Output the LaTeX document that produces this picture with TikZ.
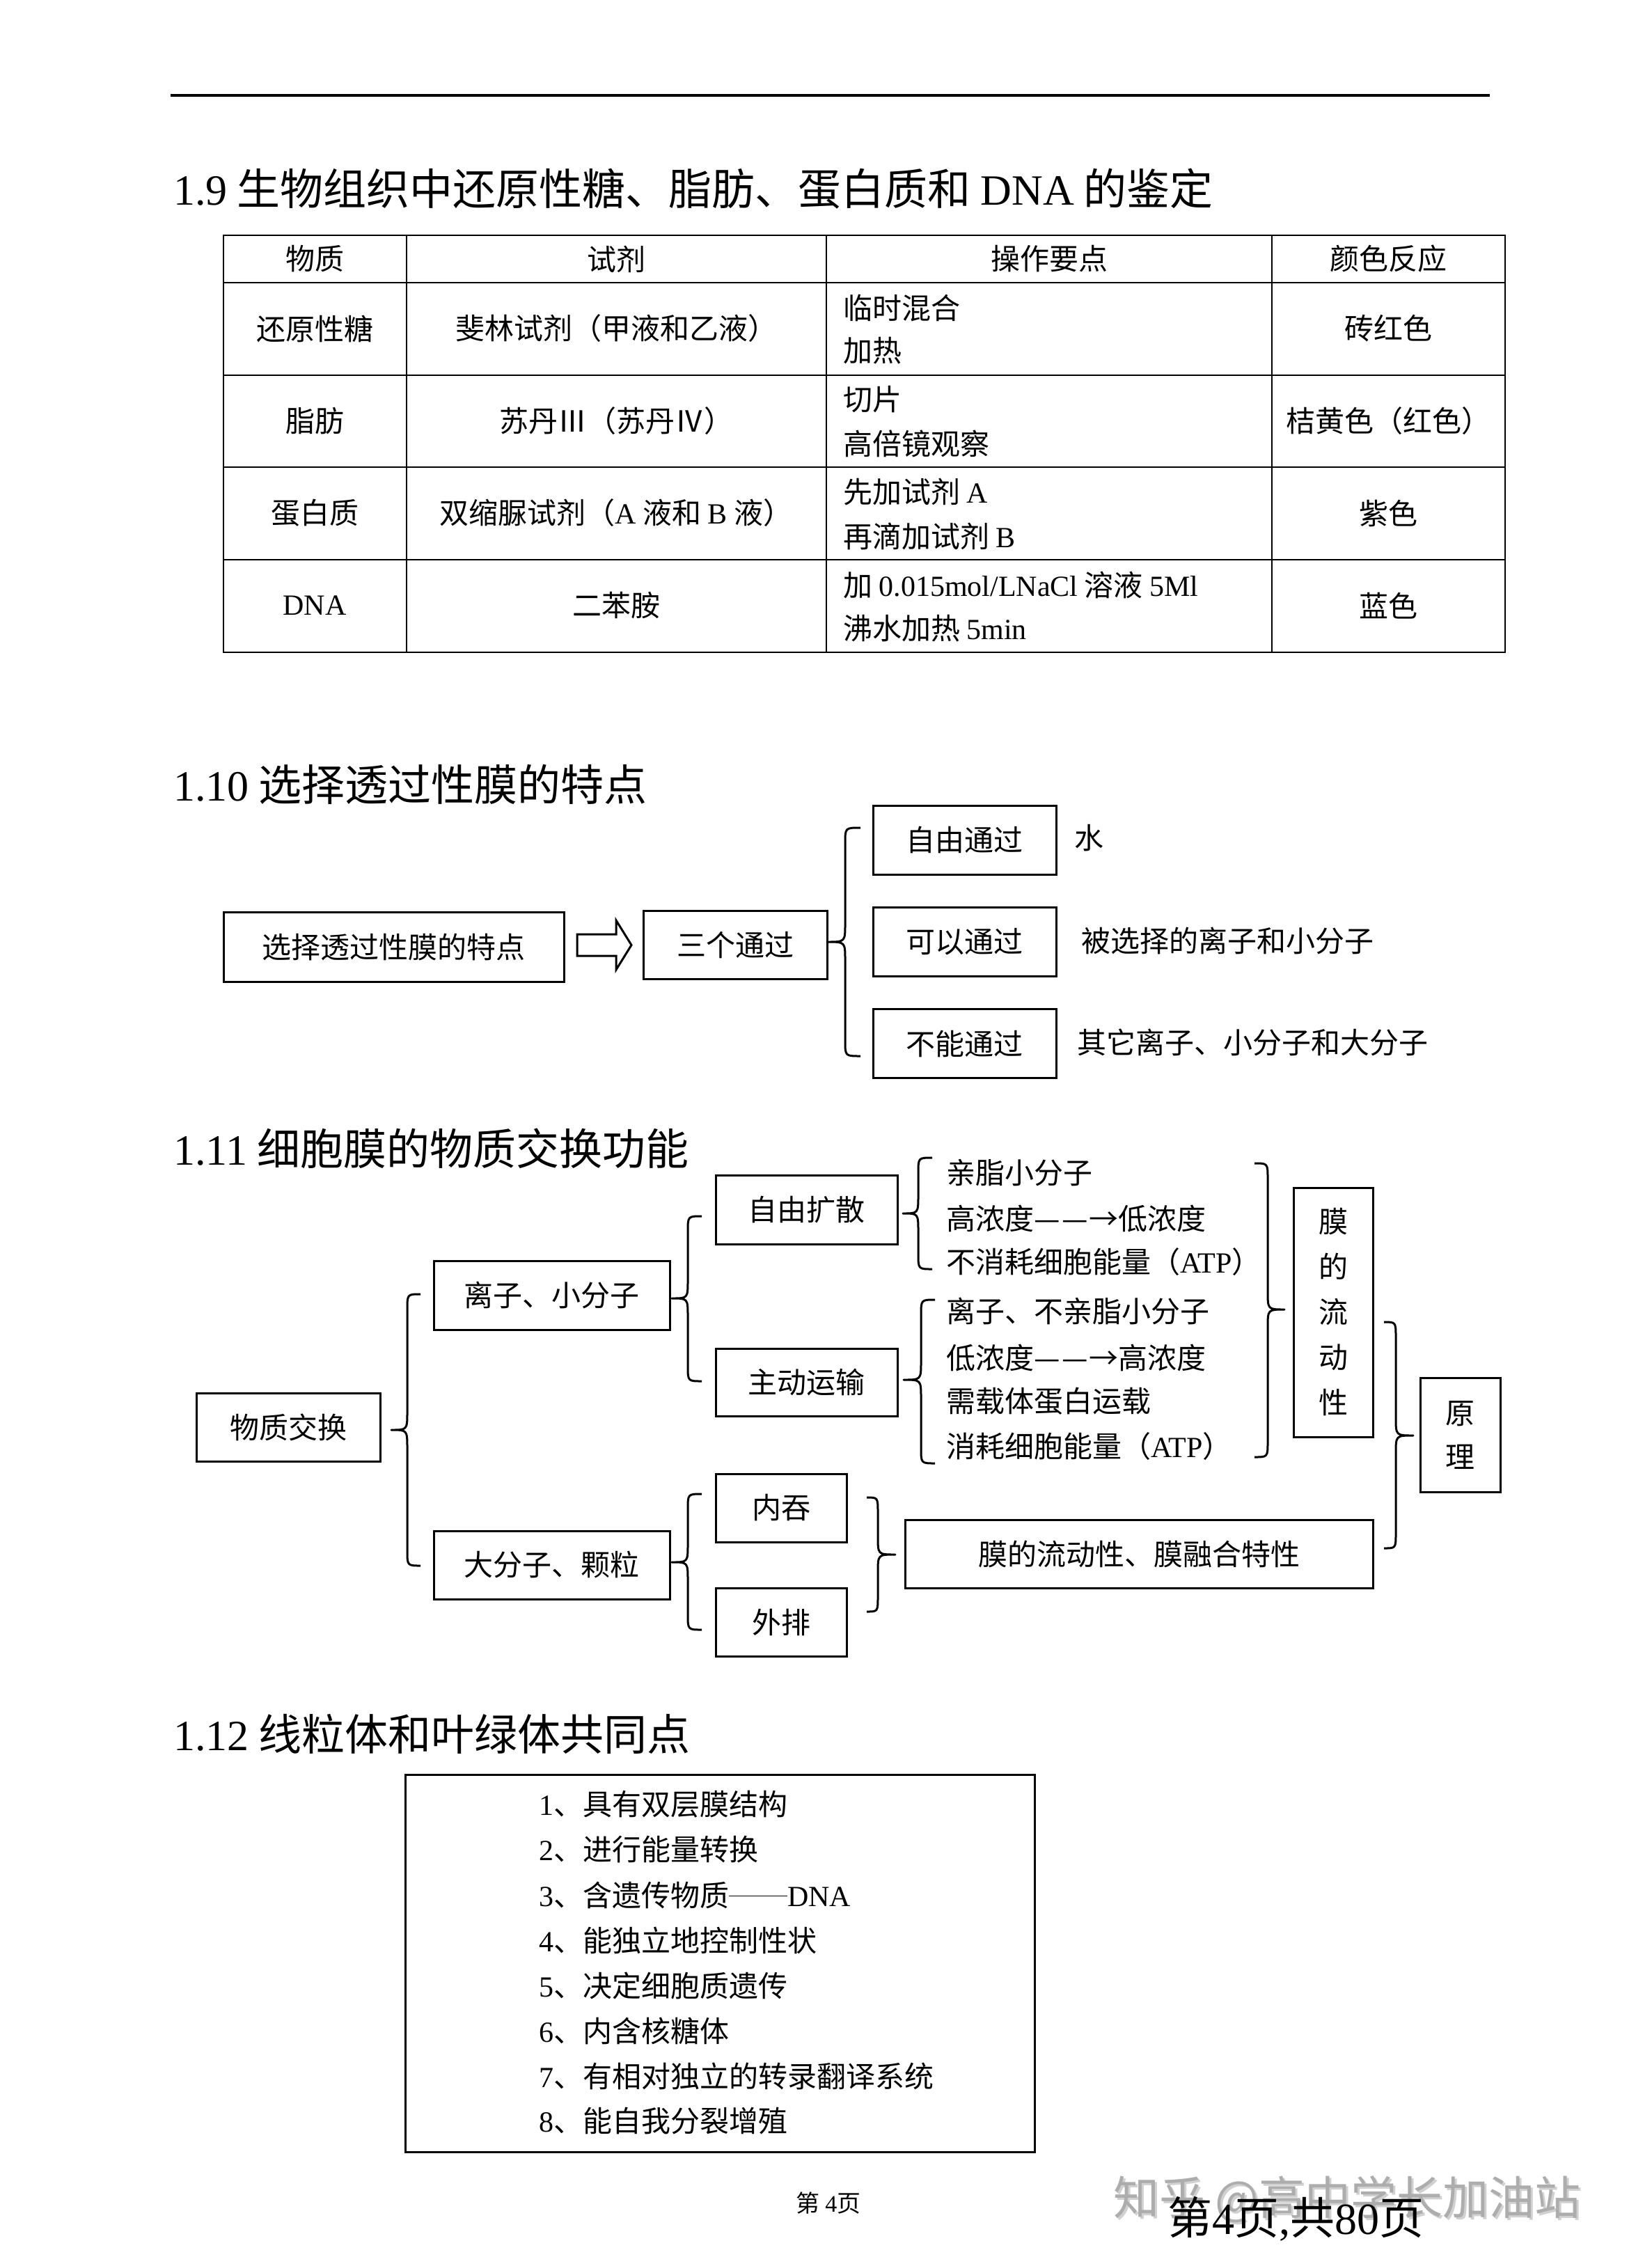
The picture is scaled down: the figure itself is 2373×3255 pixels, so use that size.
\documentclass[tikz,border=0pt]{standalone}
\usepackage{fontspec}
\setmainfont{Liberation Serif}
\newfontfamily\cjk{Noto Sans CJK SC}
\newfontfamily\latin{Liberation Serif}
\newcommand\la[1]{{\latin #1}}
\newcommand\longarr{\makebox[2.9em][s]{—\hfil—\hfil→}}
\newcommand\twodash{\rule[0.33em]{2em}{1.6pt}}
% brace: ends x, vertical x, tip x, y top, y tip, y bottom
\newcommand\brc[6]{%
  \draw[braceline] (#1,#4) .. controls (#2,#4) .. (#2,#4+22) -- (#2,#5-26)
    .. controls (#2,#5) .. (#3,#5) .. controls (#2,#5) .. (#2,#5+26)
    -- (#2,#6-22) .. controls (#2,#6) .. (#1,#6);}
\begin{document}
\begin{tikzpicture}[x=1pt,y=-1pt,
  every node/.style={inner sep=0pt, font=\cjk\fontsize{42}{50}\selectfont},
  box/.style={draw, line width=3pt},
  gridline/.style={line width=2pt},
  lbl/.style={anchor=west},
  title/.style={anchor=west, font=\cjk\fontsize{62}{70}\selectfont},
  braceline/.style={line width=3pt, line join=round},
  vtext/.style={align=center, font=\cjk\fontsize{42}{65}\selectfont}
]
\useasboundingbox (0,0) rectangle (2373,3255);
\fill[white] (0,0) rectangle (2373,3255);

% header rule
\draw[line width=4pt] (245,137) -- (2140,137);

% ===== 1.9 =====
\node[title] (t19) at (249,271) {\la{1.9} 生物组织中还原性糖、脂肪、蛋白质和 \la{DNA} 的鉴定};
\draw[gridline] (321,338) rectangle (2162,937);
\foreach \yy in {406,539,671,804} \draw[gridline] (321,\yy) -- (2162,\yy);
\foreach \xx in {584,1187,1827} \draw[gridline] (\xx,338) -- (\xx,937);

\node (h1) at (452,372) {物质};
\node (h2) at (885,372) {试剂};
\node (h3) at (1507,372) {操作要点};
\node (h4) at (1994,372) {颜色反应};

\node (a1) at (452,472) {还原性糖};
\node (a2) at (885,472) {斐林试剂（甲液和乙液）};
\node[lbl] (a3) at (1211,442) {临时混合};
\node[lbl] (a3b) at (1211,504) {加热};
\node (a4) at (1994,472) {砖红色};

\node (b1) at (452,605) {脂肪};
\node (b2) at (885,605) {苏丹Ⅲ（苏丹Ⅳ）};
\node[lbl] (b3) at (1211,574) {切片};
\node[lbl] (b3b) at (1211,637) {高倍镜观察};
\node (b4) at (1994,605) {桔黄色（红色）};

\node (c1) at (452,737) {蛋白质};
\node (c2) at (885,737) {双缩脲试剂（\la{A} 液和 \la{B} 液）};
\node[lbl] (c3) at (1211,707) {先加试剂 \la{A}};
\node[lbl] (c3b) at (1211,770) {再滴加试剂 \la{B}};
\node (c4) at (1994,737) {紫色};

\node (d1) at (452,870) {\la{DNA}};
\node (d2) at (885,870) {二苯胺};
\node[lbl] (d3) at (1211,840) {加 \la{0.015mol/LNaCl} 溶液 \la{5Ml}};
\node[lbl] (d3b) at (1211,903) {沸水加热 \la{5min}};
\node (d4) at (1994,870) {蓝色};

% ===== 1.10 =====
\node[title] (t110) at (249,1127) {\la{1.10} 选择透过性膜的特点};
\node[box, minimum width=489, minimum height=100] (sA) at (565.5,1360) {选择透过性膜的特点};
\node[box, minimum width=264, minimum height=98] (sB) at (1056,1357) {三个通过};
\node[box, minimum width=263, minimum height=99] (sC1) at (1385.5,1206.5) {自由通过};
\node[box, minimum width=263, minimum height=99] (sC2) at (1385.5,1353) {可以通过};
\node[box, minimum width=263, minimum height=99] (sC3) at (1385.5,1499) {不能通过};
\node[lbl] (sL1) at (1543,1204) {水};
\node[lbl] (sL2) at (1553,1351) {被选择的离子和小分子};
\node[lbl] (sL3) at (1547,1497) {其它离子、小分子和大分子};
\draw[line width=3pt, line join=miter] (829,1342) -- (885,1342) -- (885,1322) -- (907,1357.5)
  -- (885,1393) -- (885,1373) -- (829,1373) -- cycle;
\brc{1236}{1214}{1188}{1189}{1353}{1517}

% ===== 1.11 =====
\node[title] (t111) at (249,1650) {\la{1.11} 细胞膜的物质交换功能};
\node[box, minimum width=264, minimum height=98] (m0) at (414,2050) {物质交换};
\node[box, minimum width=339, minimum height=99] (m1) at (792.5,1860.5) {离子、小分子};
\node[box, minimum width=339, minimum height=98] (m2) at (792.5,2248) {大分子、颗粒};
\node[box, minimum width=261, minimum height=99] (m11) at (1158.5,1737.5) {自由扩散};
\node[box, minimum width=261, minimum height=97] (m12) at (1158.5,1985.5) {主动运输};
\node[box, minimum width=188, minimum height=98] (m21) at (1122,2166) {内吞};
\node[box, minimum width=188, minimum height=98] (m22) at (1122,2330) {外排};
\node[box, minimum width=672, minimum height=98] (m3) at (1636,2232) {膜的流动性、膜融合特性};
\node[box, vtext, minimum width=114, minimum height=358] (m4) at (1915,1885) {膜\\的\\流\\动\\性};
\node[box, align=center, font=\cjk\fontsize{42}{63}\selectfont, minimum width=115, minimum height=164] (m5) at (2097.5,2061) {原\\理};

\node[lbl] (p1) at (1359,1685) {亲脂小分子};
\node[lbl] (p2) at (1359,1750) {高浓度\longarr 低浓度};
\node[lbl] (p3) at (1359,1813) {不消耗细胞能量（\la{ATP}）};
\node[lbl] (q1) at (1359,1883) {离子、不亲脂小分子};
\node[lbl] (q2) at (1359,1950) {低浓度\longarr 高浓度};
\node[lbl] (q3) at (1359,2013) {需载体蛋白运载};
\node[lbl] (q4) at (1359,2078) {消耗细胞能量（\la{ATP}）};

\brc{604}{585}{562}{1859}{2054}{2249}
\brc{1008}{988}{965}{1747}{1865}{1984}
\brc{1008}{988}{965}{2146}{2244}{2341}
\brc{1339}{1319}{1297}{1663}{1743}{1823}
\brc{1343}{1323}{1298}{1867}{1982}{2102}
\brc{1802}{1821}{1845}{1671}{1881}{2093}
\brc{1988}{2005}{2030}{1899}{2062}{2224}
\brc{1245}{1261}{1286}{2151}{2233}{2315}

% ===== 1.12 =====
\node[title] (t112) at (249,2491) {\la{1.12} 线粒体和叶绿体共同点};
\node[box, minimum width=904, minimum height=542] (L) at (1034,2820) {};
\node[lbl] (l1) at (774,2592) {\la{1}、具有双层膜结构};
\node[lbl] (l2) at (774,2657) {\la{2}、进行能量转换};
\node[lbl] (l3) at (774,2722) {\la{3}、含遗传物质\twodash\la{DNA}};
\node[lbl] (l4) at (774,2787) {\la{4}、能独立地控制性状};
\node[lbl] (l5) at (774,2852) {\la{5}、决定细胞质遗传};
\node[lbl] (l6) at (774,2917) {\la{6}、内含核糖体};
\node[lbl] (l7) at (774,2982) {\la{7}、有相对独立的转录翻译系统};
\node[lbl] (l8) at (774,3047) {\la{8}、能自我分裂增殖};

% ===== footer =====
\node[font=\cjk\fontsize{34}{40}\selectfont] (pg) at (1190,3165) {第 \la{4}页};
\node[lbl, text=black!18, font=\cjk\fontsize{66}{70}\selectfont] (wm2) at (1602,3162) {知乎 @高中学长加油站};
\node[lbl, text=black!32, font=\cjk\fontsize{66}{70}\selectfont] (wm) at (1599,3159) {知乎 @高中学长加油站};
\node[lbl, font=\cjk\fontsize{64}{70}\selectfont] (pg2) at (1677,3187) {第\la{4}页\la{,}共\la{80}页};
\end{tikzpicture}
\end{document}
